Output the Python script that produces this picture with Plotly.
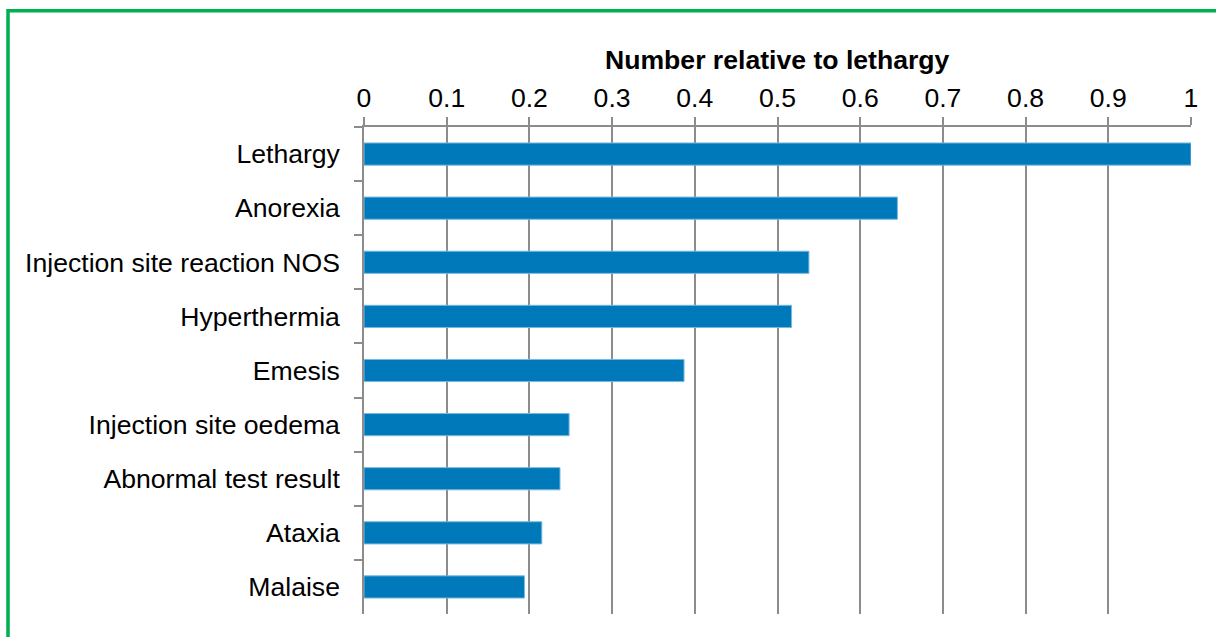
import plotly.graph_objects as go

categories = ["Lethargy", "Anorexia", "Injection site reaction NOS", "Hyperthermia",
              "Emesis", "Injection site oedema", "Abnormal test result", "Ataxia", "Malaise"]
values = [1.0, 0.645, 0.538, 0.517, 0.387, 0.248, 0.237, 0.215, 0.194]
x_ticks = [0, 0.1, 0.2, 0.3, 0.4, 0.5, 0.6, 0.7, 0.8, 0.9, 1]
x_tick_labels = ["0", "0.1", "0.2", "0.3", "0.4", "0.5", "0.6", "0.7", "0.8", "0.9", "1"]
title_text = "Number relative to lethargy"

GRID = "#8c8c8c"
FONT = "Liberation Sans, Arial, sans-serif"
FS = 26.6

fig = go.Figure(go.Bar(
    x=values, y=categories, orientation="h", width=0.41,
    marker=dict(color="#0079BA", line=dict(color="#7ab8de", width=1)),
    hoverinfo="x+y",
))

fig.update_layout(
    width=1216, height=637,
    margin=dict(l=364, r=25, t=127, b=23, autoexpand=False),
    paper_bgcolor="white", plot_bgcolor="white",
    font=dict(family=FONT, size=FS, color="black"),
    showlegend=False,
    xaxis=dict(
        side="top", range=[0, 1], tickvals=x_ticks, ticktext=x_tick_labels,
        showgrid=True, gridcolor=GRID, gridwidth=1.5,
        showline=True, linecolor=GRID, linewidth=1.5,
        ticks="outside", ticklen=8, tickcolor=GRID, tickwidth=1.5,
        zeroline=False, fixedrange=True,
    ),
    yaxis=dict(
        autorange="reversed", type="category",
        showline=True, linecolor=GRID, linewidth=1.5,
        ticks="outside", tickson="boundaries", ticklen=8, tickcolor=GRID, tickwidth=1.5,
        showgrid=False, zeroline=False, fixedrange=True,
        ticklabelstandoff=17,
    ),
    annotations=[dict(
        text="<b>" + title_text + "</b>", xref="paper", yref="paper",
        x=0.5, y=1 + (127 - 60) / 487, xanchor="center", yanchor="middle",
        showarrow=False, font=dict(family=FONT, size=FS, color="black"),
    )],
    shapes=[dict(
        type="rect", xref="paper", yref="paper",
        x0=(8 - 364) / 827, x1=1.3, y0=-0.3, y1=1 + (127 - 10.7) / 487,
        line=dict(color="#00B050", width=3.5), fillcolor="rgba(0,0,0,0)", layer="above",
    )],
)

fig.write_html(
    "out.html",
    config={"displayModeBar": False},
    post_script="document.body.style.margin='0';document.body.style.overflow='hidden';",
)
